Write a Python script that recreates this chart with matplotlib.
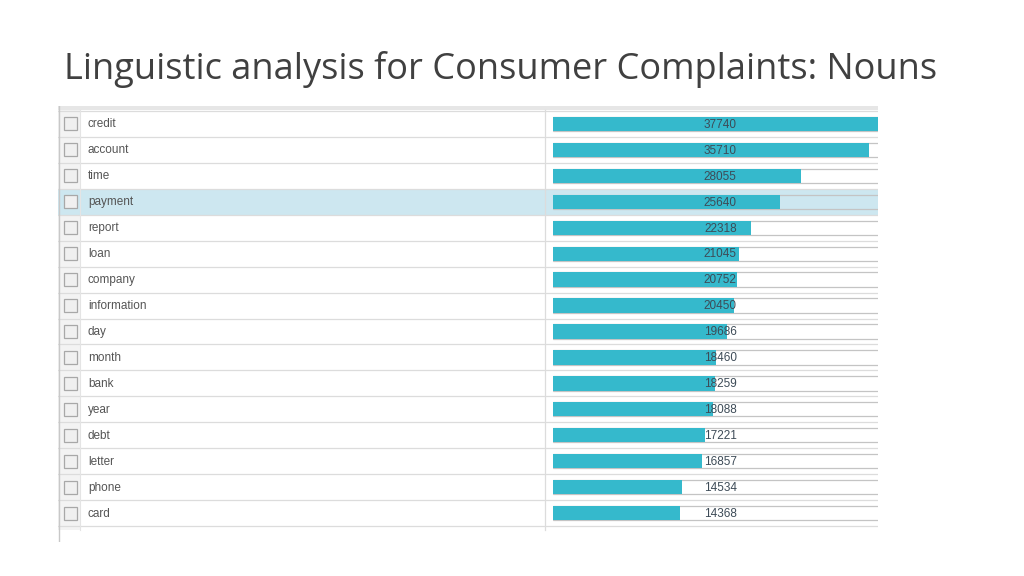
import matplotlib.pyplot as plt
from matplotlib.patches import Rectangle

words = ['credit', 'account', 'time', 'payment', 'report', 'loan', 'company',
         'information', 'day', 'month', 'bank', 'year', 'debt', 'letter',
         'phone', 'card']
counts = [37740, 35710, 28055, 25640, 22318, 21045, 20752, 20450, 19686,
          18460, 18259, 18088, 17221, 16857, 14534, 14368]
selected = 'payment'
title = 'Linguistic analysis for Consumer Complaints: Nouns'

W, H = 1024, 576
BAR = '#35b9cc'
ROW_TOP, ROW_H = 111, 25.94

fig = plt.figure(figsize=(W / 100, H / 100), dpi=100)
fig.patch.set_facecolor('white')


def px_axes(x0, y0, x1, y1):
    return fig.add_axes([x0 / W, 1 - y1 / H, (x1 - x0) / W, (y1 - y0) / H])


fig.text(64 / W, 1 - 69 / H, title, fontsize=26, color='#404040',
         family='Open Sans', va='center', ha='left')

# table frame, drawn in pixel units
tab = px_axes(58, 106, 878, 542)
tab.set_xlim(58, 878)
tab.set_ylim(542, 106)
tab.axis('off')
n = len(words)
tab.add_patch(Rectangle((58, 106), 22, 424, color='#f3f3f3', lw=0))
tab.add_patch(Rectangle((58, 106), 820, 4, color='#e6e6e6', lw=0))
for i, w in enumerate(words):
    top = ROW_TOP + ROW_H * i
    yc = top + ROW_H / 2
    if w == selected:
        tab.add_patch(Rectangle((58, top), 820, ROW_H, color='#cde7f0', lw=0))
    tab.add_patch(Rectangle((63.5, yc - 6.5), 13, 13, facecolor='#f0f0f0',
                            edgecolor='#a8a8a8', lw=0.9))
    tab.text(88, yc + 0.5, w, fontsize=8.5, color='#555555',
             family='Liberation Sans', va='center', ha='left')
for i in range(n + 1):
    y = ROW_TOP + ROW_H * i
    tab.plot([58, 878], [y, y], color='#dcdcdc', lw=0.9)
tab.plot([58.5, 58.5], [106, 542], color='#c8c8c8', lw=1)
tab.plot([80, 80], [110, 530], color='#e4e4e4', lw=0.8)
tab.plot([545, 545], [110, 530], color='#dcdcdc', lw=0.9)

# bars
ax = px_axes(553, ROW_TOP, 878, ROW_TOP + ROW_H * n)
ax.patch.set_alpha(0)
xmax = 36720
ax.set_xlim(0, xmax)
ax.set_ylim(n - 0.5, -0.5)
ax.axis('off')
ys = list(range(n))
ax.barh(ys, [xmax * 1.1] * n, height=0.55, fill=False, edgecolor='#c4c4c4',
        lw=0.9)
ax.barh(ys, counts, height=0.55, color=BAR, lw=0)
for y, c in zip(ys, counts):
    ax.text(0.515, y + 0.03, str(c), transform=ax.get_yaxis_transform(),
            fontsize=8.5, color='#3d4b57', family='Liberation Sans',
            ha='center', va='center')

fig.savefig('out.png', dpi=100, facecolor='white')
